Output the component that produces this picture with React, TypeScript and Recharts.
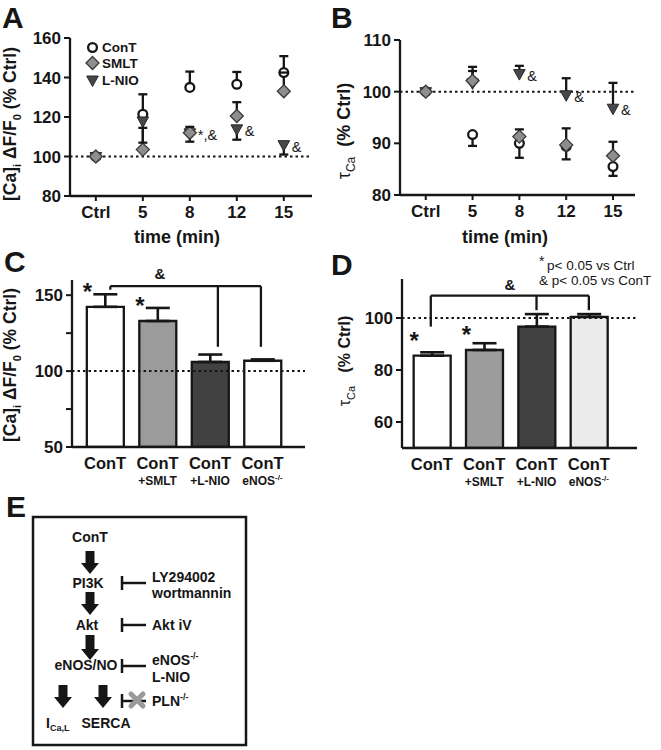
import React from "react";
import {
  ScatterChart,
  Scatter,
  BarChart,
  Bar,
  Cell,
  XAxis,
  YAxis,
  ErrorBar,
  ReferenceLine,
  LabelList,
} from "recharts";

// ---- shared categories ----
const TIME_LABELS = ["Ctrl", "5", "8", "12", "15"];
const BAR_MAIN = ["ConT", "ConT", "ConT", "ConT"];
const BAR_SUB = ["", "+SMLT", "+L-NIO", "eNOS"];
const BAR_SUP = ["", "", "", "-/-"];

// ---- panel A: [Ca]i amplitude (% Ctrl) ----
const A_CONT = [100, 121.4, 135, 136.6, 142.5];
const A_CONT_UP = [0, 10.1, 8, 6.2, 8.3];
const A_SMLT = [100, 103.5, 112, 120.5, 133];
const A_SMLT_UP = [0, 11, 3, 7, 9.5];
const A_LNIO = [100, 118, 112, 114, 106];
const A_LNIO_DOWN = [0, 11, 4.5, 5.5, 5];
const A_NOTES = ["", "", "*,&", "&", "&"];

// ---- panel B: tau Ca (% Ctrl) ----
const B_CONT = [100, 91.7, 90, 89.4, 85.5];
const B_CONT_DOWN = [0, 2.2, 2.8, 2.5, 1.8];
const B_SMLT = [100, 102.1, 91.3, 89.7, 87.6];
const B_SMLT_UP = [0, 2.7, 1.4, 3.2, 2.7];
const B_LNIO = [100, 101.7, 103.5, 99.4, 96.8];
const B_LNIO_UP = [0, 2.3, 1.5, 3.2, 4.9];
const B_NOTES = ["", "", "&", "&", "&"];

// ---- panel C / D: bars ----
const C_VALUES = [142.3, 133, 106, 106.8];
const C_ERR = [8.3, 8.6, 4.9, 0.9];
const C_SIG = ["*", "*", "", ""];
const C_FILLS = ["#ffffff", "#9b9b9b", "#414141", "#ffffff"];

const D_VALUES = [85.5, 87.7, 96.7, 100.4];
const D_ERR = [1.3, 2.6, 4.8, 1.1];
const D_SIG = ["*", "*", "", ""];
const D_FILLS = ["#ffffff", "#9b9b9b", "#414141", "#ececec"];

const INK = "#161616";
const FONT = "'Liberation Sans', Arial, Helvetica, sans-serif";
const zeros = [0, 0, 0, 0, 0];

function series(vals: number[], up: number[], down: number[], notes?: string[]) {
  return vals.map((v, i) => ({ x: i, y: v, err: [down[i], up[i]], note: notes ? notes[i] : "" }));
}

function caps(vals: number[], up: number[], down: number[]) {
  const out: { x: number; y: number }[] = [];
  vals.forEach((v, i) => {
    if (up[i] > 0) out.push({ x: i, y: v + up[i] });
    if (down[i] > 0) out.push({ x: i, y: v - down[i] });
  });
  return out;
}

function bars(vals: number[], err: number[], sig: string[]) {
  return vals.map((v, i) => ({ x: i, v, err: [0, err[i]], sig: sig[i] }));
}

const CircleShape = (p: any) => (
  <circle cx={p.cx} cy={p.cy} r={4.4} fill="#fff" stroke={INK} strokeWidth={2.3} />
);
const DiamondShape = (p: any) => (
  <polygon
    points={`${p.cx},${p.cy - 6.5} ${p.cx + 6.5},${p.cy} ${p.cx},${p.cy + 6.5} ${p.cx - 6.5},${p.cy}`}
    fill="#8e8e8e"
    stroke="#3a3a3a"
    strokeWidth={1.3}
  />
);
const TriShape = (p: any) => (
  <polygon
    points={`${p.cx - 5.8},${p.cy - 4} ${p.cx + 5.8},${p.cy - 4} ${p.cx},${p.cy + 6.5}`}
    fill="#474747"
    stroke="#2a2a2a"
    strokeWidth={1}
  />
);
const CapShape = (p: any) => (
  <line x1={p.cx - 4.5} x2={p.cx + 4.5} y1={p.cy} y2={p.cy} stroke={INK} strokeWidth={2.3} />
);

const NoteLabel = (props: any) => {
  const { value } = props;
  if (!value) return null;
  const vb = props.viewBox || props;
  const cx = vb.x + (vb.width || 0) / 2;
  const cy = vb.y + (vb.height || 0) / 2;
  return (
    <text x={cx + 8} y={cy + 7} fontSize={14.5} fontFamily={FONT} fill={INK}>
      {value}
    </text>
  );
};

const StarLabel = (props: any) => {
  const { value } = props;
  if (!value) return null;
  const vb = props.viewBox || props;
  const cx = vb.x + (vb.width || 0) / 2;
  return (
    <text x={cx - 18} y={vb.y - 7} textAnchor="middle" fontSize={24} fontWeight={700} fontFamily={FONT} fill={INK}>
      {value}
    </text>
  );
};

const BarTick = (props: any) => {
  const { x, y, payload } = props;
  const i = payload.value;
  return (
    <g>
      <text x={x} y={y + 14} textAnchor="middle" fontSize={16.5} fontWeight={700} fontFamily={FONT} fill={INK}>
        {BAR_MAIN[i]}
      </text>
      {BAR_SUB[i] && (
        <text x={x} y={y + 30} textAnchor="middle" fontSize={12} fontWeight={700} fontFamily={FONT} fill={INK}>
          {BAR_SUB[i]}
          {BAR_SUP[i] && (
            <tspan fontSize={8} dy={-5}>
              {BAR_SUP[i]}
            </tspan>
          )}
        </text>
      )}
    </g>
  );
};

const axisLine = { stroke: INK, strokeWidth: 2.3 };
const tickLine = { stroke: INK, strokeWidth: 2 };
const tickFont = { fill: INK, fontSize: 17, fontWeight: 700, fontFamily: FONT };

function TimePanel(props: {
  domain: [number, number];
  ticks: number[];
  xMax: number;
  cont: any[];
  smlt: any[];
  lnio: any[];
  capPts: any[];
  width: number;
  margin: any;
}) {
  const { domain, ticks, xMax, cont, smlt, lnio, capPts, width, margin } = props;
  return (
    <ScatterChart width={width} height={240} margin={margin}>
      <XAxis
        type="number"
        dataKey="x"
        domain={[-0.55, xMax]}
        ticks={[0, 1, 2, 3, 4]}
        tickFormatter={(v: number) => TIME_LABELS[v]}
        allowDataOverflow
        height={30}
        tickSize={5}
        tickMargin={5}
        axisLine={axisLine}
        tickLine={tickLine}
        tick={tickFont}
        interval={0}
      />
      <YAxis
        type="number"
        dataKey="y"
        domain={domain}
        ticks={ticks}
        allowDataOverflow
        width={50}
        tickSize={6}
        tickMargin={3}
        axisLine={axisLine}
        tickLine={tickLine}
        tick={tickFont}
        interval={0}
      />
      <ReferenceLine y={100} stroke={INK} strokeWidth={2} strokeDasharray="2.5 3" />
      <Scatter data={cont} shape={CircleShape} isAnimationActive={false}>
        <ErrorBar dataKey="err" direction="y" width={0} stroke={INK} strokeWidth={2.3} />
      </Scatter>
      <Scatter data={lnio} shape={TriShape} isAnimationActive={false}>
        <ErrorBar dataKey="err" direction="y" width={0} stroke={INK} strokeWidth={2.3} />
        <LabelList dataKey="note" content={NoteLabel} />
      </Scatter>
      <Scatter data={smlt} shape={DiamondShape} isAnimationActive={false}>
        <ErrorBar dataKey="err" direction="y" width={0} stroke={INK} strokeWidth={2.3} />
      </Scatter>
      <Scatter data={capPts} shape={CapShape} isAnimationActive={false} />
    </ScatterChart>
  );
}

function BarPanel(props: {
  data: any[];
  fills: string[];
  domain: [number, number];
  ticks: number[];
  labelled: number[];
  xDomain: [number, number];
  bracket: { x1: number; x2: number; y: number; drops: { x: number; y: number }[] };
  margin: any;
  width: number;
}) {
  const { data, fills, domain, ticks, labelled, xDomain, bracket, margin, width } = props;
  return (
    <BarChart width={width} height={250} data={data} margin={margin}>
      <XAxis
        type="number"
        dataKey="x"
        domain={xDomain}
        ticks={[0, 1, 2, 3]}
        allowDataOverflow
        height={40}
        tickLine={false}
        axisLine={axisLine}
        tick={<BarTick />}
        interval={0}
      />
      <YAxis
        type="number"
        domain={domain}
        ticks={ticks}
        allowDataOverflow
        width={50}
        tickSize={6}
        tickMargin={3}
        axisLine={axisLine}
        tickLine={tickLine}
        tick={tickFont}
        tickFormatter={(v: number) => (labelled.includes(v) ? String(v) : "")}
        interval={0}
      />
      <Bar dataKey="v" barSize={37} stroke={INK} strokeWidth={2.3} isAnimationActive={false}>
        {data.map((_, i) => (
          <Cell key={i} fill={fills[i]} />
        ))}
        <ErrorBar dataKey="err" direction="y" width={12} stroke={INK} strokeWidth={2.6} />
        <LabelList dataKey="sig" content={StarLabel} />
      </Bar>
      <ReferenceLine y={100} stroke={INK} strokeWidth={2} strokeDasharray="2.5 3" />
      <ReferenceLine
        segment={[
          { x: bracket.x1, y: bracket.y },
          { x: bracket.x2, y: bracket.y },
        ]}
        stroke={INK}
        strokeWidth={2.3}
        ifOverflow="visible"
      />
      {bracket.drops.map((d, i) => (
        <ReferenceLine
          key={i}
          segment={[
            { x: d.x, y: bracket.y },
            { x: d.x, y: d.y },
          ]}
          stroke={INK}
          strokeWidth={2.3}
          ifOverflow="visible"
        />
      ))}
    </BarChart>
  );
}

const Arrow = ({ cx, y1, y2 }: { cx: number; y1: number; y2: number }) => {
  const head = 11;
  return (
    <path
      d={`M${cx - 4.5},${y1} L${cx + 4.5},${y1} L${cx + 4.5},${y2 - head} L${cx + 9},${y2 - head} L${cx},${y2} L${cx - 9},${y2 - head} L${cx - 4.5},${y2 - head} Z`}
      fill={INK}
    />
  );
};

const Inhibit = ({ y }: { y: number }) => (
  <g stroke={INK} strokeWidth={2.5}>
    <line x1={122} x2={122} y1={y - 7} y2={y + 7} />
    <line x1={122} x2={146} y1={y} y2={y} />
  </g>
);

const bold = { fontFamily: FONT, fontWeight: 700, fill: INK } as const;

export default function App() {
  return (
    <div style={{ position: "absolute", left: 0, top: 0, width: 661, height: 750, background: "#fff", fontFamily: FONT }}>
      <div style={{ position: "absolute", left: 0, top: 0 }}>
        <TimePanel
          width={330}
          margin={{ top: 38, right: 18, left: 20, bottom: 14 }}
          domain={[80, 160]}
          ticks={[80, 100, 120, 140, 160]}
          xMax={4.6}
          cont={series(A_CONT, A_CONT_UP, zeros)}
          smlt={series(A_SMLT, A_SMLT_UP, zeros)}
          lnio={series(A_LNIO, zeros, A_LNIO_DOWN, A_NOTES)}
          capPts={[...caps(A_CONT, A_CONT_UP, zeros), ...caps(A_SMLT, A_SMLT_UP, zeros), ...caps(A_LNIO, zeros, A_LNIO_DOWN)]}
        />
      </div>
      <div style={{ position: "absolute", left: 330, top: 0 }}>
        <TimePanel
          width={331}
          margin={{ top: 40, right: 26, left: 20, bottom: 15 }}
          domain={[80, 110]}
          ticks={[80, 90, 100, 110]}
          xMax={4.47}
          cont={series(B_CONT, zeros, B_CONT_DOWN)}
          smlt={series(B_SMLT, B_SMLT_UP, zeros)}
          lnio={series(B_LNIO, B_LNIO_UP, zeros, B_NOTES)}
          capPts={[...caps(B_CONT, zeros, B_CONT_DOWN), ...caps(B_SMLT, B_SMLT_UP, zeros), ...caps(B_LNIO, B_LNIO_UP, zeros)]}
        />
      </div>
      <div style={{ position: "absolute", left: 0, top: 250 }}>
        <BarPanel
          width={330}
          margin={{ top: 30, right: 25, left: 22, bottom: 13 }}
          data={bars(C_VALUES, C_ERR, C_SIG)}
          fills={C_FILLS}
          domain={[50, 160]}
          ticks={[50, 75, 100, 125, 150]}
          labelled={[50, 100, 150]}
          xDomain={[-0.63, 3.81]}
          bracket={{ x1: 0.1, x2: 2.97, y: 155.9, drops: [{ x: 0.1, y: 153.6 }, { x: 2.15, y: 116 }, { x: 2.97, y: 116 }] }}
        />
      </div>
      <div style={{ position: "absolute", left: 330, top: 250 }}>
        <BarPanel
          width={331}
          margin={{ top: 29, right: 24, left: 22, bottom: 12 }}
          data={bars(D_VALUES, D_ERR, D_SIG)}
          fills={D_FILLS}
          domain={[50, 115]}
          ticks={[60, 80, 100]}
          labelled={[60, 80, 100]}
          xDomain={[-0.57, 3.92]}
          bracket={{ x1: -0.02, x2: 3.0, y: 108.6, drops: [{ x: -0.02, y: 96.7 }, { x: 2.0, y: 103 }, { x: 3.0, y: 103 }] }}
        />
      </div>

      <svg width={661} height={750} style={{ position: "absolute", left: 0, top: 0, pointerEvents: "none" }}>
        {/* panel letters */}
        <text x={2} y={28} fontSize={30} {...bold}>A</text>
        <text x={331} y={28} fontSize={30} {...bold}>B</text>
        <text x={4} y={272} fontSize={30} {...bold}>C</text>
        <text x={331} y={275} fontSize={30} {...bold}>D</text>
        <text x={6} y={517} fontSize={30} {...bold}>E</text>

        {/* legend A */}
        <circle cx={92.5} cy={47.5} r={4.4} fill="#fff" stroke={INK} strokeWidth={2.3} />
        <polygon points="92.5,56.5 99,63 92.5,69.5 86,63" fill="#8e8e8e" stroke="#3a3a3a" strokeWidth={1.3} />
        <polygon points="86.7,76 98.3,76 92.5,86.5" fill="#474747" stroke="#2a2a2a" strokeWidth={1} />
        <text x={102} y={52} fontSize={13.5} {...bold}>ConT</text>
        <text x={102} y={68} fontSize={13.5} {...bold}>SMLT</text>
        <text x={102} y={84.5} fontSize={13.5} {...bold}>L-NIO</text>

        {/* axis titles */}
        <text x={177} y={243} fontSize={18} textAnchor="middle" {...bold}>time (min)</text>
        <text x={505} y={243} fontSize={18} textAnchor="middle" {...bold}>time (min)</text>
        <g transform="translate(16,124) rotate(-90)">
          <text x={0} y={0} fontSize={17.5} textAnchor="middle" {...bold}>
            [Ca]<tspan fontSize={11} dy={5}>i</tspan>
            <tspan dy={-5}> ΔF/F</tspan>
            <tspan fontSize={11} dy={5}>0</tspan>
            <tspan dy={-5}> (% Ctrl)</tspan>
          </text>
        </g>
        <g transform="translate(16,365) rotate(-90)">
          <text x={0} y={0} fontSize={17.5} textAnchor="middle" {...bold}>
            [Ca]<tspan fontSize={11} dy={5}>i</tspan>
            <tspan dy={-5}> ΔF/F</tspan>
            <tspan fontSize={11} dy={5}>0</tspan>
            <tspan dy={-5}> (% Ctrl)</tspan>
          </text>
        </g>
        <g transform="translate(350,131) rotate(-90)">
          <text x={0} y={0} fontSize={18} textAnchor="middle" fontFamily={FONT} fill={INK}>
            τ<tspan fontSize={12} dy={5}>Ca</tspan>
            <tspan dy={-5} fontWeight={700}>{"\u00a0\u00a0(% Ctrl)"}</tspan>
          </text>
        </g>
        <g transform="translate(350,361) rotate(-90)">
          <text x={0} y={0} fontSize={16} textAnchor="middle" fontFamily={FONT} fill={INK}>
            τ<tspan fontSize={11} dy={5}>Ca</tspan>
            <tspan dy={-5} fontWeight={700}>{"\u00a0\u00a0\u00a0(% Ctrl)"}</tspan>
          </text>
        </g>

        {/* bracket labels */}
        <text x={160} y={279} fontSize={15} textAnchor="middle" {...bold}>&amp;</text>
        <text x={510} y={290} fontSize={15} textAnchor="middle" {...bold}>&amp;</text>

        {/* significance key */}
        <text x={539} y={266} fontSize={14} fontFamily={FONT} fill={INK}>*</text>
        <text x={547} y={270} fontSize={13.5} fontFamily={FONT} fill={INK}>p&lt; 0.05 vs Ctrl</text>
        <text x={539} y={285} fontSize={13.5} fontFamily={FONT} fill={INK}>&amp; p&lt; 0.05 vs ConT</text>

        {/* panel E: pathway scheme */}
        <rect x={33} y={517} width={213} height={228} fill="none" stroke={INK} strokeWidth={2.5} />
        <text x={90} y={542} fontSize={14} textAnchor="middle" {...bold}>ConT</text>
        <Arrow cx={90} y1={551} y2={574} />
        <text x={88} y={588} fontSize={14} textAnchor="middle" {...bold}>PI3K</text>
        <Arrow cx={90} y1={592} y2={615} />
        <text x={87} y={630} fontSize={14} textAnchor="middle" {...bold}>Akt</text>
        <Arrow cx={90} y1={635} y2={660} />
        <text x={86} y={670} fontSize={14} textAnchor="middle" {...bold}>eNOS/NO</text>
        <Arrow cx={63} y1={685} y2={708} />
        <Arrow cx={103} y1={685} y2={708} />
        <text x={46} y={728} fontSize={14} {...bold}>
          I<tspan fontSize={9} dy={3}>Ca,L</tspan>
        </text>
        <text x={106} y={728} fontSize={14} textAnchor="middle" {...bold}>SERCA</text>

        <Inhibit y={583} />
        <Inhibit y={625} />
        <Inhibit y={666} />
        <Inhibit y={701} />
        <g stroke="#9a9a9a" strokeWidth={5} strokeLinecap="round">
          <line x1={131} y1={694} x2={143} y2={706} />
          <line x1={143} y1={694} x2={131} y2={706} />
        </g>
        <text x={152} y={582} fontSize={14} {...bold}>LY294002</text>
        <text x={152} y={598} fontSize={14} {...bold}>wortmannin</text>
        <text x={152} y={630} fontSize={14} {...bold}>Akt iV</text>
        <text x={152} y={665} fontSize={14} {...bold}>
          eNOS<tspan fontSize={9} dy={-6}>-/-</tspan>
        </text>
        <text x={152} y={682} fontSize={14} {...bold}>L-NIO</text>
        <text x={152} y={706} fontSize={14} {...bold}>
          PLN<tspan fontSize={9} dy={-6}>-/-</tspan>
        </text>
      </svg>
    </div>
  );
}
